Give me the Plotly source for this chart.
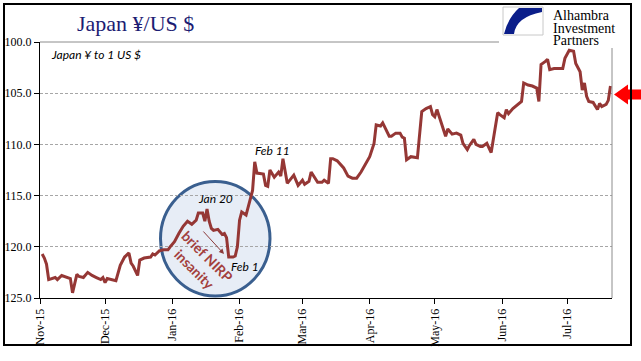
import plotly.graph_objects as go

# ---- data ----
dates = [
    "2015-11-02", "2015-11-03", "2015-11-04", "2015-11-05", "2015-11-08", "2015-11-09",
    "2015-11-11", "2015-11-14", "2015-11-15", "2015-11-16", "2015-11-18", "2015-11-19",
    "2015-11-21", "2015-11-23", "2015-11-25", "2015-11-27", "2015-11-29", "2015-11-30",
    "2015-12-01", "2015-12-02", "2015-12-04", "2015-12-06", "2015-12-08", "2015-12-10",
    "2015-12-12", "2015-12-13", "2015-12-14", "2015-12-16", "2015-12-17", "2015-12-19",
    "2015-12-22", "2015-12-23", "2015-12-24", "2015-12-26", "2015-12-28", "2015-12-30",
    "2015-12-31", "2016-01-02", "2016-01-04", "2016-01-06", "2016-01-08", "2016-01-10",
    "2016-01-12", "2016-01-13", "2016-01-15", "2016-01-16", "2016-01-17", "2016-01-18",
    "2016-01-19", "2016-01-20", "2016-01-22", "2016-01-24", "2016-01-25", "2016-01-26",
    "2016-01-27", "2016-01-29", "2016-01-30", "2016-01-31", "2016-02-01", "2016-02-02",
    "2016-02-04", "2016-02-05", "2016-02-06", "2016-02-07", "2016-02-08", "2016-02-09",
    "2016-02-12", "2016-02-13", "2016-02-14", "2016-02-15", "2016-02-17", "2016-02-19",
    "2016-02-20", "2016-02-21", "2016-02-23", "2016-02-25", "2016-02-26", "2016-02-28",
    "2016-02-29", "2016-03-01", "2016-03-02", "2016-03-04", "2016-03-05", "2016-03-07",
    "2016-03-08", "2016-03-10", "2016-03-11", "2016-03-13", "2016-03-14", "2016-03-15",
    "2016-03-17", "2016-03-20", "2016-03-22", "2016-03-24", "2016-03-26", "2016-03-28",
    "2016-03-30", "2016-04-01", "2016-04-03", "2016-04-04", "2016-04-06", "2016-04-07",
    "2016-04-10", "2016-04-11", "2016-04-13", "2016-04-15", "2016-04-16", "2016-04-17",
    "2016-04-18", "2016-04-20", "2016-04-23", "2016-04-25", "2016-04-27", "2016-04-29",
    "2016-04-30", "2016-05-01", "2016-05-02", "2016-05-04", "2016-05-06", "2016-05-07",
    "2016-05-09", "2016-05-11", "2016-05-13", "2016-05-14", "2016-05-16", "2016-05-17",
    "2016-05-19", "2016-05-20", "2016-05-22", "2016-05-23", "2016-05-25", "2016-05-27",
    "2016-05-28", "2016-05-30", "2016-05-31", "2016-06-02", "2016-06-03", "2016-06-04",
    "2016-06-06", "2016-06-09", "2016-06-10", "2016-06-11", "2016-06-13", "2016-06-15",
    "2016-06-17", "2016-06-18", "2016-06-19", "2016-06-21", "2016-06-22", "2016-06-23",
    "2016-06-25", "2016-06-27", "2016-06-29", "2016-06-30", "2016-07-02", "2016-07-04",
    "2016-07-05", "2016-07-07", "2016-07-08", "2016-07-09", "2016-07-10", "2016-07-11",
    "2016-07-13", "2016-07-15", "2016-07-16", "2016-07-17", "2016-07-19", "2016-07-20",
    "2016-07-21",
]
yen_per_usd = [
    120.7, 121.1, 121.7, 123.2, 123.0, 123.2,
    122.8, 123.0, 123.1, 124.5, 122.7, 122.9,
    123.0, 122.5, 122.8, 123.0, 123.2, 123.0,
    123.5, 123.1, 123.2, 123.3, 121.8, 121.0,
    120.6, 121.6, 121.9, 122.8, 121.3, 121.1,
    121.0, 120.7, 120.8, 120.4, 120.3, 120.3,
    120.0, 119.5, 118.7, 118.0, 117.5, 117.8,
    117.4, 116.7, 116.7, 117.5, 116.3, 117.5,
    118.2, 118.4, 118.3, 118.8, 118.7, 119.1,
    121.0, 121.0, 120.9, 120.0, 117.4, 116.6,
    116.9, 116.1, 115.4, 114.5, 111.7, 112.8,
    112.9, 114.0, 114.1, 112.5, 113.2, 112.7,
    113.1, 111.4, 113.8, 113.2, 113.0, 114.0,
    113.7, 113.5, 113.9, 113.6, 112.7, 113.3,
    113.7, 113.7, 113.5, 113.8, 111.4, 111.4,
    111.6, 112.3, 113.1, 113.3, 113.3, 112.7,
    112.0, 111.2, 109.9, 108.1, 108.2, 107.9,
    109.2, 109.2, 108.9, 108.9, 109.3, 109.4,
    111.5, 111.2, 111.3, 106.8, 106.5, 106.3,
    107.1, 107.3, 106.6, 107.9, 109.2, 108.5,
    109.0, 108.9, 109.1, 109.9, 110.5, 110.1,
    109.5, 110.0, 110.2, 110.2, 109.9, 110.8,
    109.4, 106.9, 107.1, 107.4, 106.6, 107.0,
    106.5, 106.0, 105.8, 104.0, 104.2, 104.3,
    104.5, 105.8, 102.2, 101.9, 101.7, 102.7,
    102.6, 102.6, 102.6, 101.6, 100.8, 100.9,
    102.1, 102.9, 104.7, 104.0, 105.3, 105.8,
    105.9, 106.6, 106.0, 106.3, 106.1, 105.7,
    104.3,
]
y_ticks = [100, 105, 110, 115, 120, 125]

# ---- layout helpers (pixel -> paper) ----
W, H = 641, 361
L, R, T, B = 40, 612, 42, 298


def fx(x):
    return (x - L) / (R - L)


def fy(y):
    return (B - y) / (B - T)


LINE_COLOR = "#953735"

fig = go.Figure()
fig.add_trace(go.Scatter(
    x=dates, y=yen_per_usd, mode="lines",
    line=dict(color=LINE_COLOR, width=3), hoverinfo="x+y",
))

shapes = [
    # circle highlighting NIRP episode
    dict(type="circle", xref="paper", yref="paper",
         x0=fx(160.5), x1=fx(270), y0=fy(296), y1=fy(181.5),
         fillcolor="#E7EDF6", line=dict(color="#3A5F8F", width=3), layer="between"),
    # top and right light frame lines
    dict(type="line", xref="paper", yref="paper", x0=0, x1=fx(499), y0=1, y1=1,
         line=dict(color="#8C8C8C", width=1), layer="above"),
    dict(type="line", xref="paper", yref="paper", x0=1, x1=1, y0=0, y1=fy(48),
         line=dict(color="#8C8C8C", width=1), layer="above"),
    # white logo background
    dict(type="rect", xref="paper", yref="paper", x0=fx(499), x1=fx(629), y0=fy(47), y1=fy(6),
         fillcolor="white", line=dict(width=0), layer="above"),
    # logo box
    dict(type="rect", xref="paper", yref="paper", x0=fx(503), x1=fx(543), y0=fy(35), y1=fy(7),
         fillcolor="white", line=dict(color="#C8C8C8", width=1), layer="above"),
    # logo swoosh
    dict(type="path", xref="paper", yref="paper",
         path=(f"M {fx(519)},{fy(8)} L {fx(542)},{fy(8)} L {fx(542)},{fy(12)} "
               f"Q {fx(516)},{fy(17)} {fx(514)},{fy(34)} L {fx(504)},{fy(34)} "
               f"Q {fx(508)},{fy(18)} {fx(519)},{fy(8)} Z"),
         fillcolor="#0B1E8A", line=dict(width=0), layer="above"),
    # red pointer arrow at right
    dict(type="path", xref="paper", yref="paper",
         path=(f"M {fx(614)},{fy(94.5)} L {fx(628)},{fy(84.5)} L {fx(628)},{fy(89.5)} "
               f"L {fx(641)},{fy(89.5)} L {fx(641)},{fy(99.5)} L {fx(628)},{fy(99.5)} "
               f"L {fx(628)},{fy(104.5)} Z"),
         fillcolor="#FF0000", line=dict(width=0), layer="above"),
    # outer border
    dict(type="rect", xref="paper", yref="paper", x0=fx(4), x1=fx(631), y0=fy(345), y1=fy(4),
         line=dict(color="black", width=2), fillcolor="rgba(0,0,0,0)", layer="above"),
]

ital = dict(family="Lato", size=12, color="black")
serif_logo = dict(family="Liberation Serif", size=14, color="black")
annotations = [
    dict(text="Japan ¥/US $", x=fx(135), y=fy(23), xref="paper", yref="paper",
         xanchor="center", yanchor="middle", showarrow=False,
         font=dict(family="Liberation Serif", size=22, color="#1C1C73")),
    dict(text="<i>Japan ¥ to 1 US $</i>", x=fx(49), y=fy(54), xref="paper", yref="paper",
         xanchor="left", yanchor="middle", showarrow=False, font=ital),
    dict(text="<i>Feb 11</i>", x=fx(253), y=fy(150), xref="paper", yref="paper",
         xanchor="left", yanchor="middle", showarrow=False, font=ital),
    dict(text="<i>Jan 20</i>", x=fx(215), y=fy(198), xref="paper", yref="paper",
         xanchor="center", yanchor="middle", showarrow=False, font=ital),
    dict(text="<i>Feb 1</i>", x=fx(245), y=fy(266), xref="paper", yref="paper",
         xanchor="center", yanchor="middle", showarrow=False, font=ital),
    dict(text="<b>brief NIRP<br>insanity</b>", x=fx(201), y=fy(262), xref="paper", yref="paper",
         xanchor="center", yanchor="middle", showarrow=False, textangle=45,
         font=dict(family="Lato", size=14, color="#A3403D")),
    dict(text="", x=fx(224), y=fy(254), xref="paper", yref="paper",
         ax=-22, ay=-24, showarrow=True, arrowhead=2, arrowsize=1, arrowwidth=1,
         arrowcolor="#8B3A3A"),
    dict(text="Alhambra", x=fx(551), y=fy(15.5), xref="paper", yref="paper",
         xanchor="left", yanchor="middle", showarrow=False, font=serif_logo),
    dict(text="Investment", x=fx(551), y=fy(28), xref="paper", yref="paper",
         xanchor="left", yanchor="middle", showarrow=False, font=serif_logo),
    dict(text="Partners", x=fx(551), y=fy(40.5), xref="paper", yref="paper",
         xanchor="left", yanchor="middle", showarrow=False, font=serif_logo),
]

fig.update_layout(
    width=W, height=H, autosize=False,
    margin=dict(l=L, r=W - R, t=T, b=H - B, pad=0),
    paper_bgcolor="white", plot_bgcolor="white",
    showlegend=False,
    shapes=shapes, annotations=annotations,
    xaxis=dict(
        type="date", range=["2015-11-01", "2016-07-21 17:00"],
        tick0="2015-11-01", dtick="M1", tickformat="%b-%y", tickangle=-90,
        ticks="outside", ticklen=5, tickcolor="black",
        showline=True, linecolor="black", linewidth=1,
        showgrid=False, zeroline=False, automargin=False,
        tickfont=dict(family="Liberation Serif", size=12, color="black"),
    ),
    yaxis=dict(
        range=[125, 100], tickvals=y_ticks, tickformat=".1f",
        ticks="outside", ticklen=5, tickcolor="black",
        showline=True, linecolor="black", linewidth=1,
        showgrid=True, gridcolor="#A6A6A6", gridwidth=1, griddash="3px,2px",
        zeroline=False, automargin=False,
        tickfont=dict(family="Liberation Serif", size=12, color="black"),
    ),
)

fig.write_html(
    "out.html",
    config={"displayModeBar": False},
    post_script="document.body.style.margin='0';document.body.style.overflow='hidden';",
)
